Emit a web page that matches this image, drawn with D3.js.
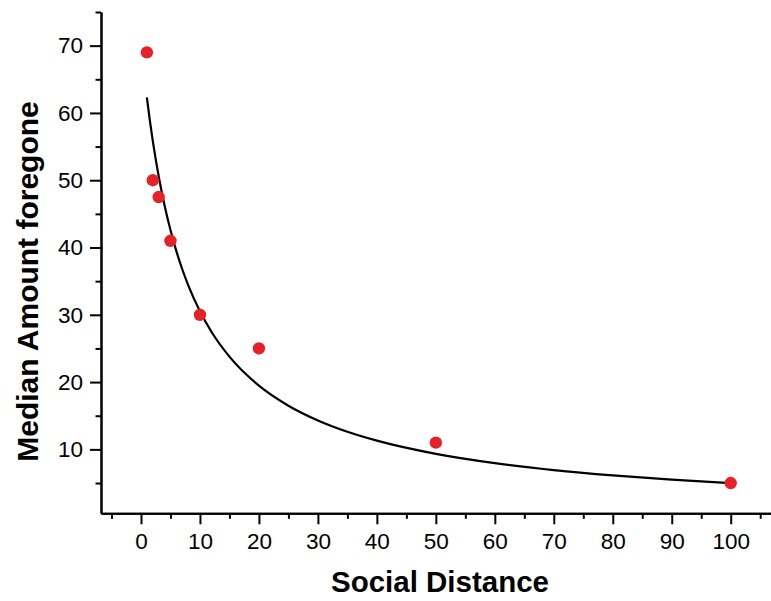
<!DOCTYPE html>
<html>
<head>
<meta charset="utf-8">
<script src="https://cdn.jsdelivr.net/npm/d3@7"></script>
<style>
  html, body { margin: 0; padding: 0; background: #fff; }
  svg { display: block; }
  text { font-family: "Liberation Sans", Arial, sans-serif; fill: #000; }
</style>
</head>
<body>
<svg id="chart" width="771" height="601"></svg>
<script>
// Observed data points
const distances = [1, 2, 3, 5, 10, 20, 50, 100];
const amounts   = [69, 50, 47.5, 41, 30, 25, 11, 5];

// Fitted curve
const curveX = [1, 1.5, 2, 3, 4, 5, 6, 7, 8, 10, 12, 15, 20, 25, 30, 35, 40, 50, 60, 70, 80, 90, 100];
const curveY = [62.3, 58.9, 55.84, 50.59, 46.25, 42.59, 39.46, 36.77, 34.42, 30.52, 27.41, 23.78, 19.47, 16.49, 14.3, 12.62, 11.3, 9.34, 7.96, 6.93, 6.14, 5.51, 5.0];

// Tick values
const xMajorTicks = [0, 10, 20, 30, 40, 50, 60, 70, 80, 90, 100];
const xMinorTicks = [-5, 5, 15, 25, 35, 45, 55, 65, 75, 85, 95, 105];
const yMajorTicks = [10, 20, 30, 40, 50, 60, 70];
const yMinorTicks = [5, 15, 25, 35, 45, 55, 65, 75];

const xTitle = "Social Distance";
const yTitle = "Median Amount foregone";

const svg = d3.select("#chart");
const plotLeft = 101, plotRight = 770.7, plotTop = 12, plotBottom = 513.3;

const x = d3.scaleLinear().domain([-6.78, 106.78]).range([plotLeft, plotRight]);
const y = d3.scaleLinear().domain([0.5, 75]).range([plotBottom, plotTop]);

function styleAxis(g) {
  g.selectAll("path").attr("stroke", "#000").attr("stroke-width", 2);
  g.selectAll("line").attr("stroke", "#000").attr("stroke-width", 2);
  g.selectAll("text").attr("font-size", 22.5).attr("font-family", '"Liberation Sans", Arial, sans-serif').attr("fill", "#000");
}

// X axis minor
svg.append("g").attr("transform", `translate(0,${plotBottom})`)
  .call(d3.axisBottom(x).tickValues(xMinorTicks).tickSize(5.5).tickFormat("").tickSizeOuter(0))
  .call(styleAxis);
// X axis major
svg.append("g").attr("transform", `translate(0,${plotBottom})`)
  .call(d3.axisBottom(x).tickValues(xMajorTicks).tickSize(11).tickPadding(8.5).tickFormat(d3.format("d")).tickSizeOuter(0))
  .call(styleAxis);

// Y axis minor
svg.append("g").attr("transform", `translate(${plotLeft},0)`)
  .call(d3.axisLeft(y).tickValues(yMinorTicks).tickSize(5.5).tickFormat("").tickSizeOuter(0))
  .call(styleAxis);
// Y axis major
svg.append("g").attr("transform", `translate(${plotLeft},0)`)
  .call(d3.axisLeft(y).tickValues(yMajorTicks).tickSize(11).tickPadding(7).tickFormat(d3.format("d")).tickSizeOuter(0))
  .call(styleAxis);

// Fitted curve
const line = d3.line()
  .x((d, i) => x(curveX[i]))
  .y((d, i) => y(curveY[i]))
  .curve(d3.curveMonotoneX);
svg.append("path")
  .attr("d", line(curveX))
  .attr("fill", "none")
  .attr("stroke", "#000")
  .attr("stroke-width", 2.2);

// Points
svg.append("g").selectAll("circle")
  .data(distances)
  .join("circle")
  .attr("cx", d => x(d))
  .attr("cy", (d, i) => y(amounts[i]))
  .attr("r", 6.2)
  .attr("fill", "#e52228");

// Titles
svg.append("text")
  .attr("x", 440).attr("y", 592)
  .attr("text-anchor", "middle")
  .attr("font-size", 29.5).attr("font-weight", "bold")
  .text(xTitle);

svg.append("text")
  .attr("transform", "translate(38,281.5) rotate(-90)")
  .attr("text-anchor", "middle")
  .attr("font-size", 30).attr("font-weight", "bold")
  .text(yTitle);
</script>
</body>
</html>
